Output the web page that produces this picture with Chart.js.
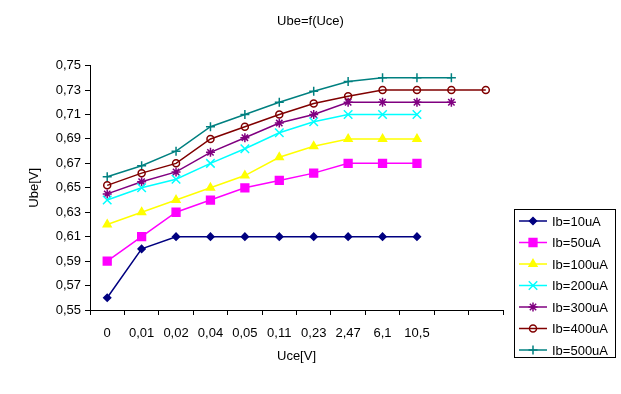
<!DOCTYPE html>
<html>
<head>
<meta charset="utf-8">
<script src="https://cdn.jsdelivr.net/npm/chart.js"></script>
<style>
  body { margin: 0; background: #fff; }
</style>
</head>
<body>
<canvas id="ube-chart" width="621" height="394"></canvas>
<script>

// categories (two empty slots at the end, like the original sheet)
let uceLabels = ["0", "0,01", "0,02", "0,04", "0,05", "0,11", "0,23", "2,47", "6,1", "10,5", "", ""];

let ib10  = [0.56, 0.60, 0.61, 0.61, 0.61, 0.61, 0.61, 0.61, 0.61, 0.61];
let ib50  = [0.59, 0.61, 0.63, 0.64, 0.65, 0.656, 0.662, 0.67, 0.67, 0.67];
let ib100 = [0.62, 0.63, 0.64, 0.65, 0.66, 0.675, 0.684, 0.69, 0.69, 0.69];
let ib200 = [0.64, 0.65, 0.657, 0.67, 0.682, 0.695, 0.704, 0.71, 0.71, 0.71];
let ib300 = [0.645, 0.655, 0.663, 0.679, 0.691, 0.703, 0.71, 0.72, 0.72, 0.72, 0.72];
let ib400 = [0.652, 0.662, 0.67, 0.69, 0.70, 0.71, 0.719, 0.725, 0.73, 0.73, 0.73, 0.73];
let ib500 = [0.659, 0.668, 0.68, 0.70, 0.71, 0.72, 0.729, 0.737, 0.74, 0.74, 0.74];

let seriesNames = ["Ib=10uA", "Ib=50uA", "Ib=100uA", "Ib=200uA", "Ib=300uA", "Ib=400uA", "Ib=500uA"];

//_____________________________________________________________________________

function makeSet(label, data, color, style, radius, fill) {
  return {
    label: label,
    data: data,
    borderColor: color,
    backgroundColor: color,
    borderWidth: 1.5,
    pointStyle: style,
    pointRadius: radius,
    pointHoverRadius: radius,
    pointBorderColor: color,
    pointBackgroundColor: fill,
    pointBorderWidth: 1.5,
    fill: false,
    tension: 0
  };
}

let sets = [
  makeSet(seriesNames[0], ib10,  "#000080", "rectRot", 3.5, "#000080"),
  makeSet(seriesNames[1], ib50,  "#ff00ff", "rect", 5.5, "#ff00ff"),
  makeSet(seriesNames[2], ib100, "#ffff00", "triangle", 4.5, "#ffff00"),
  makeSet(seriesNames[3], ib200, "#00ffff", "crossRot", 6, "#00ffff"),
  makeSet(seriesNames[4], ib300, "#800080", "star", 4.5, "#800080"),
  makeSet(seriesNames[5], ib400, "#800000", "circle", 3.5, "rgba(0,0,0,0)"),
  makeSet(seriesNames[6], ib500, "#008080", "cross", 4.5, "#008080")
];

// legend with line + marker in a framed box, bottom right
let boxLegend = {
  id: "boxLegend",
  afterDraw(chart) {
    let ctx = chart.ctx;
    let left = 514.5, top = 209.5, w = 101, h = 148;
    ctx.save();
    ctx.strokeStyle = "#000";
    ctx.lineWidth = 1;
    ctx.strokeRect(left, top, w, h);
    ctx.font = "13px 'Liberation Sans', Arial, sans-serif";
    ctx.textBaseline = "middle";
    ctx.textAlign = "left";
    chart.data.datasets.forEach((ds, i) => {
      let y = 221 + i * 21.5;
      ctx.strokeStyle = ds.borderColor;
      ctx.lineWidth = 1.5;
      ctx.beginPath();
      ctx.moveTo(519, y);
      ctx.lineTo(547, y);
      ctx.stroke();
      ctx.fillStyle = ds.pointBackgroundColor;
      ctx.strokeStyle = ds.pointBorderColor;
      ctx.lineWidth = 1.5;
      Chart.helpers.drawPoint(ctx, {
        pointStyle: ds.pointStyle,
        radius: ds.pointRadius,
        rotation: 0,
        borderWidth: 1.5
      }, 533, y);
      ctx.fillStyle = "#000";
      ctx.fillText(ds.label, 552, y + 1);
    });
    ctx.restore();
  }
};

let font = { family: "'Liberation Sans', Arial, sans-serif", size: 13 };

new Chart(document.getElementById("ube-chart"), {
  type: "line",
  data: {
    labels: uceLabels,
    datasets: sets
  },
  options: {
    responsive: false,
    animation: false,
    layout: { padding: 0 },
    plugins: {
      legend: { display: false },
      tooltip: { enabled: false },
      title: {
        display: true,
        text: "Ube=f(Uce)",
        color: "#000",
        font: { family: font.family, size: 13, weight: "normal" },
        padding: { top: 14, bottom: 36 }
      }
    },
    scales: {
      x: {
        offset: true,
        afterFit: scale => { scale.height = 84; },
        grid: {
          display: true,
          offset: true,
          drawOnChartArea: false,
          drawTicks: true,
          tickLength: 5,
          color: "#000"
        },
        border: { display: true, color: "#000", width: 1 },
        ticks: {
          color: "#000",
          font: font,
          maxRotation: 0,
          autoSkip: false,
          padding: 11
        },
        title: {
          display: true,
          text: "Uce[V]",
          color: "#000",
          font: font,
          padding: { top: 0, bottom: 30 }
        }
      },
      y: {
        min: 0.55,
        max: 0.75,
        afterFit: scale => { scale.width = 90; },
        grid: {
          display: true,
          drawOnChartArea: false,
          drawTicks: true,
          tickLength: 5,
          color: "#000"
        },
        border: { display: true, color: "#000", width: 1 },
        ticks: {
          stepSize: 0.02,
          color: "#000",
          font: font,
          padding: 4,
          callback: v => v.toFixed(2).replace(".", ",")
        },
        title: {
          display: true,
          text: "Ube[V]",
          color: "#000",
          font: font,
          padding: { top: 27, bottom: 0 }
        }
      },
      // empty strip on the right that leaves room for the legend box
      yRight: {
        position: "right",
        display: true,
        afterFit: scale => { scale.width = 118; },
        grid: { display: false },
        border: { display: false },
        ticks: { display: false }
      }
    }
  },
  plugins: [boxLegend]
});

</script>
</body>
</html>
